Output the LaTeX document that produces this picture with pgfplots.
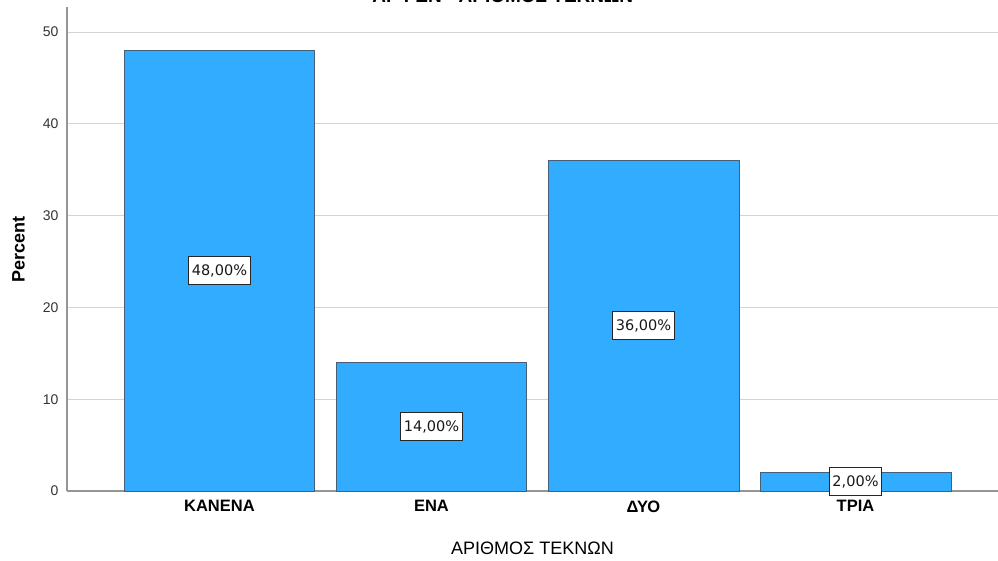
\documentclass[border=0pt]{standalone}
\usepackage{fontspec}
\setmainfont{Liberation Sans}
\newfontfamily\dejavu{DejaVu Sans}
\usepackage{pgfplots}
\pgfplotsset{compat=1.18}

\definecolor{barblue}{RGB}{49,172,255}
\definecolor{baredge}{RGB}{70,95,120}
\definecolor{gridgray}{RGB}{212,212,212}
\definecolor{axisgray}{RGB}{150,150,150}

\begin{document}
\begin{tikzpicture}
\begin{axis}[
    at={(0,0)}, anchor=south west,
    scale only axis,
    width=931pt, height=483.5pt,
    xmin=-0.719, xmax=3.672,
    ymin=0, ymax=52.67,
    ybar, bar width=0.9, bar shift=0,
    axis x line*=bottom, axis y line*=left,
    axis line style={-, axisgray, line width=1.3pt},
    xtick={0,1,2,3},
    xticklabels={ΚΑΝΕΝΑ, ΕΝΑ, ΔΥΟ, ΤΡΙΑ},
    ytick={0,10,20,30,40,50},
    major tick length=0pt,
    ymajorgrids=true,
    grid style={gridgray, line width=1pt},
    /pgf/number format/assume math mode=true,
    yticklabel style={font=\fontsize{14}{15}\selectfont, text=black!80, anchor=east, xshift=-5pt},
    xticklabel style={font=\bfseries\fontsize{16.5}{18}\selectfont, anchor=north, yshift=-6pt},
    xlabel={ΑΡΙΘΜΟΣ ΤΕΚΝΩΝ},
    xlabel style={at={(axis description cs:0.5,-0.1179)}, anchor=center, font=\fontsize{18}{20}\selectfont},
    ylabel={Percent},
    ylabel style={at={(axis description cs:-0.0521,0.5)}, anchor=center, font=\bfseries\fontsize{18}{20}\selectfont},
    title={ΑΡ ΓΕΝ - ΑΡΙΘΜΟΣ ΤΕΚΝΩΝ},
    every axis title shift=0pt,
    title style={at={(axis description cs:0.468,1)}, anchor=base, yshift=5pt, font=\bfseries\fontsize{19}{21}\selectfont},
]
\addplot[
    fill=barblue, draw=baredge, line width=0.8pt,
    visualization depends on={0.5*rawy \as \halfy},
    nodes near coords={\pgfmathprintnumber[fixed,zerofill,precision=2,use comma,assume math mode=true]{\pgfplotspointmeta}\%},
    nodes near coords align=center,
    every node near coord/.append style={
        anchor=center,
        shift={(axis direction cs:0,-\halfy)},
        fill=white, draw=black!85, line width=0.8pt,
        inner xsep=3.3pt, minimum height=28pt,
        font=\dejavu\fontsize{14.5}{16}\selectfont, text=black!90},
] coordinates {
    (0, 48) (1, 14) (2, 36) (3, 2)
};
\end{axis}
\pgfresetboundingbox
\useasboundingbox (-67pt,-69pt) rectangle (931pt,491pt);
\end{tikzpicture}
\end{document}
